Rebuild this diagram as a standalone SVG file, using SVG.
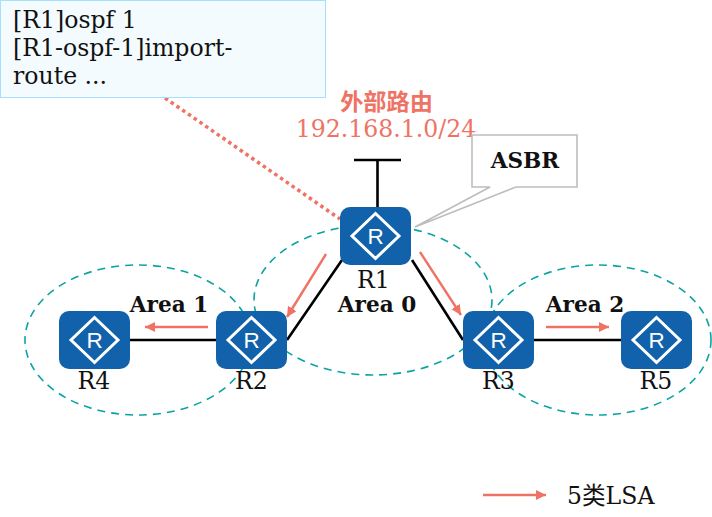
<svg xmlns="http://www.w3.org/2000/svg" width="712" height="517" viewBox="0 0 712 517">
<style>
text{font-family:"DejaVu Serif","Noto Sans CJK SC",serif;font-size:23.600px;fill:#111}
.b{font-weight:bold;font-size:21.600px}
.m{text-anchor:middle}
.area{fill:none;stroke:#0aa3a3;stroke-width:1.600;stroke-dasharray:8 6}
.link{fill:none;stroke:#000;stroke-width:2.600}
.lsa{fill:none;stroke:#ef7365;stroke-width:2.400;marker-end:url(#a)}
.box{fill:#1262ab}
.dia{fill:none;stroke:#fff;stroke-width:3}
.ri{font-family:"Liberation Sans",sans-serif;font-size:22.500px;fill:#fff;text-anchor:middle}
</style>
<defs>
<marker id="a" markerUnits="userSpaceOnUse" markerWidth="11" markerHeight="12" refX="10" refY="5" orient="auto"><path d="M0 0L10 5L0 10Z" fill="#ef7365"/></marker>
<g id="router"><rect class="box" x="-35.500" y="-29" width="71" height="58" rx="10"/><path class="dia" d="M0-22.500L23.500 0L0 22.500L-23.500 0Z"/><text class="ri" x="0" y="8">R</text></g>
</defs>
<g id="areas">
<ellipse class="area" cx="138" cy="340" rx="113" ry="75"/>
<ellipse class="area" cx="373" cy="300" rx="119" ry="75"/>
<ellipse class="area" cx="598" cy="340" rx="113" ry="75"/>
</g>
<g id="connectors">
<path d="M165 98L340 219" fill="none" stroke="#ef7365" stroke-width="3.500" stroke-dasharray="3.500 3.500"/>
<path class="link" d="M377.500 207V160M354 160H401M342 260L287 340M412 260L463 340M130 340H216M534 340H621"/>
<path class="lsa" d="M326 254L287 317"/>
<path class="lsa" d="M420 252L461 315"/>
<path class="lsa" d="M208 327H145"/>
<path class="lsa" d="M546 327H609"/>
<path class="lsa" d="M483 495H546"/>
</g>
<g id="note"><rect x="0.500" y="0.500" width="325" height="97" fill="#f3fbff" stroke="#a5e1fb"/>
<text x="13" y="28">[R1]ospf 1</text><text x="13" y="56">[R1-ospf-1]import-</text><text x="13" y="84">route ...</text></g>
<g id="route"><text class="b m" x="386.500" y="110" style="fill:#ef7365;font-size:23.200px">外部路由</text><text class="m" x="386" y="137" style="fill:#ef7365">192.168.1.0/24</text></g>
<g id="asbr"><path d="M472 135H577V187H516L415 227L490 187H472Z" fill="#fff" stroke="#bdbdbd" stroke-width="1.600"/><text class="b m" x="525" y="168">ASBR</text></g>
<g id="R1"><use href="#router" x="375.500" y="236"/><text class="m" x="373.500" y="288">R1</text></g>
<g id="R2"><use href="#router" x="251.500" y="340"/><text class="m" x="251.500" y="389">R2</text></g>
<g id="R3"><use href="#router" x="498.500" y="340"/><text class="m" x="498.500" y="389">R3</text></g>
<g id="R4"><use href="#router" x="94.500" y="340"/><text class="m" x="94" y="389">R4</text></g>
<g id="R5"><use href="#router" x="656.500" y="340"/><text class="m" x="656" y="389">R5</text></g>
<g id="labels">
<text class="b m" x="377" y="312">Area 0</text>
<text class="b m" x="169" y="312">Area 1</text>
<text class="b m" x="585" y="312">Area 2</text>
<text x="567" y="504">5类LSA</text>
</g>
</svg>
